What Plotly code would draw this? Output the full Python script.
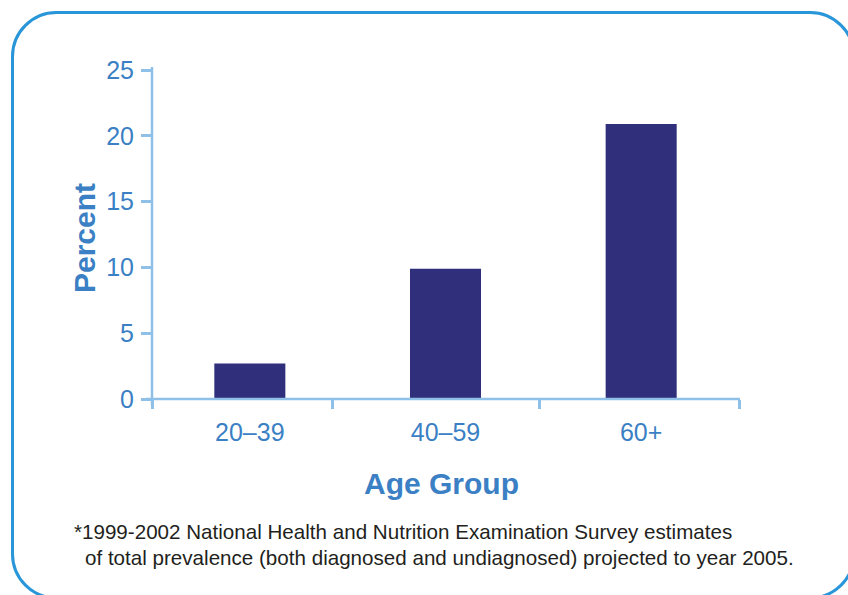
import plotly.graph_objects as go

# ---- data ----
age_groups = ["20–39", "40–59", "60+"]
percent = [2.7, 9.9, 20.9]
y_ticks = [0, 5, 10, 15, 20, 25]
x_boundaries = [-0.5, 0.421, 1.479, 2.5]
footnote_1 = "*1999-2002 National Health and Nutrition Examination Survey estimates"
footnote_2 = "of total prevalence (both diagnosed and undiagnosed) projected to year 2005."

W, H = 848, 595
L, R, T, B = 152, 739, 70, 399

def xp(px):
    return (px - L) / (R - L)

def yp(py):
    return (B - py) / (B - T)

BLUE = "#3B7FC4"
AXIS = "#8EC0E8"
BAR = "#2F2F7B"
FRAME = "#2896D8"
SANS = "Liberation Sans, Arial, sans-serif"

fig = go.Figure()
fig.add_trace(go.Bar(x=age_groups, y=percent, marker=dict(color=BAR, line=dict(width=0)),
                     width=0.363, hoverinfo="skip"))
fig.add_trace(go.Scatter(x=[x_boundaries[0], x_boundaries[-1]], y=[0, 0], xaxis="x2",
                         mode="markers", marker=dict(opacity=0), showlegend=False, hoverinfo="skip"))

fig.update_layout(
    width=W, height=H,
    margin=dict(l=L, r=W - R, t=T, b=H - B, pad=0),
    paper_bgcolor="white", plot_bgcolor="white",
    showlegend=False,
    xaxis=dict(type="category", range=[-0.5, 2.5], showline=False, showgrid=False, zeroline=False,
               ticks="", tickfont=dict(family=SANS, size=25, color=BLUE), ticklabelstandoff=16),
    xaxis2=dict(overlaying="x", range=[-0.5, 2.5], tickvals=x_boundaries, showticklabels=False,
                ticks="outside", ticklen=9, tickwidth=2.5, tickcolor=AXIS, showgrid=False,
                zeroline=False, showline=False, side="bottom", anchor="y"),
    yaxis=dict(range=[0, 25], tickvals=y_ticks, ticks="outside", ticklen=10, tickwidth=2.5,
               tickcolor=AXIS, showline=False, showgrid=False, zeroline=False,
               tickfont=dict(family=SANS, size=25, color=BLUE), ticklabelstandoff=2),
)

shapes = []
# axis lines (slightly overshooting like the reference)
shapes.append(dict(type="line", xref="paper", yref="paper", x0=xp(146), x1=xp(740), y0=yp(399), y1=yp(399),
                   line=dict(color=AXIS, width=2.5), layer="above"))
shapes.append(dict(type="line", xref="paper", yref="paper", x0=xp(152), x1=xp(152), y0=yp(67), y1=yp(405),
                   line=dict(color=AXIS, width=2.5), layer="above"))

# rounded frame
fl, ft, fr, fb, r = 12.5, 12.5, 854, 598, 44
k = 0.5523 * r
def P(x, y):
    return f"{xp(x):.5f},{yp(y):.5f}"
path = (f"M {P(fl + r, ft)} L {P(fr - r, ft)} "
        f"C {P(fr - r + k, ft)} {P(fr, ft + r - k)} {P(fr, ft + r)} "
        f"L {P(fr, fb - r)} "
        f"C {P(fr, fb - r + k)} {P(fr - r + k, fb)} {P(fr - r, fb)} "
        f"L {P(fl + r, fb)} "
        f"C {P(fl + r - k, fb)} {P(fl, fb - r + k)} {P(fl, fb - r)} "
        f"L {P(fl, ft + r)} "
        f"C {P(fl, ft + r - k)} {P(fl + r - k, ft)} {P(fl + r, ft)} Z")
shapes.append(dict(type="path", xref="paper", yref="paper", path=path,
                   line=dict(color=FRAME, width=3), layer="above"))
fig.update_layout(shapes=shapes)

annotations = [
    dict(text="<b>Age Group</b>", x=xp(441), y=yp(483), xref="paper", yref="paper",
         xanchor="center", yanchor="middle", showarrow=False,
         font=dict(family=SANS, size=30, color=BLUE)),
    dict(text="<b>Percent</b>", x=xp(84), y=yp(238), xref="paper", yref="paper",
         xanchor="center", yanchor="middle", showarrow=False, textangle=-90,
         font=dict(family=SANS, size=30, color=BLUE)),
    dict(text=footnote_1, x=xp(72), y=yp(531), xref="paper", yref="paper",
         xanchor="left", yanchor="middle", showarrow=False,
         font=dict(family=SANS, size=20.6, color="#231F20")),
    dict(text=footnote_2, x=xp(83), y=yp(557), xref="paper", yref="paper",
         xanchor="left", yanchor="middle", showarrow=False,
         font=dict(family=SANS, size=20.6, color="#231F20")),
]
fig.update_layout(annotations=annotations)

fig.write_html("out.html")
